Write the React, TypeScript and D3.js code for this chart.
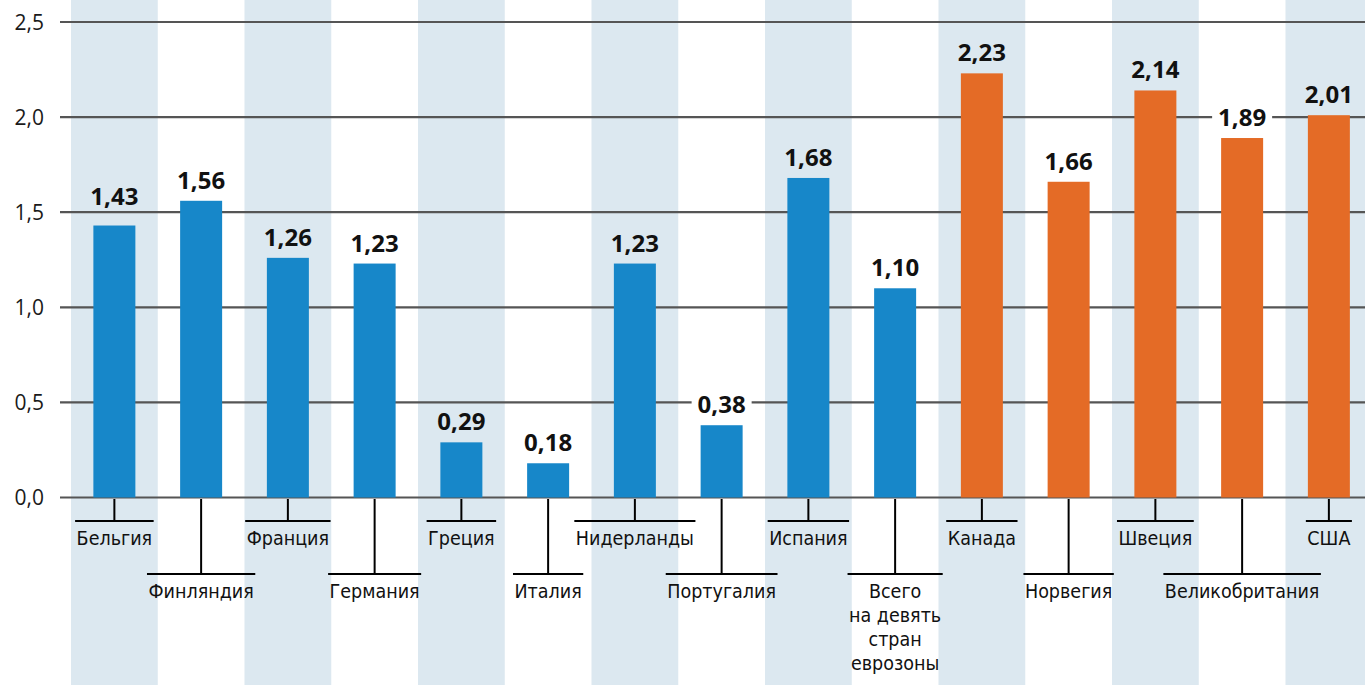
import React, { useEffect, useRef } from "react";
import * as d3 from "d3";

const categories: string[][] = [
  ["Бельгия"],
  ["Финляндия"],
  ["Франция"],
  ["Германия"],
  ["Греция"],
  ["Италия"],
  ["Нидерланды"],
  ["Португалия"],
  ["Испания"],
  ["Всего", "на девять", "стран", "еврозоны"],
  ["Канада"],
  ["Норвегия"],
  ["Швеция"],
  ["Великобритания"],
  ["США"],
];
const values: number[] = [1.43, 1.56, 1.26, 1.23, 0.29, 0.18, 1.23, 0.38, 1.68, 1.1, 2.23, 1.66, 2.14, 1.89, 2.01];
const groups: string[] = ["eu", "eu", "eu", "eu", "eu", "eu", "eu", "eu", "eu", "eu", "other", "other", "other", "other", "other"];
const yTicks: number[] = [0, 0.5, 1, 1.5, 2, 2.5];

const W = 1365;
const H = 685;
const BLUE = "#1787c9";
const ORANGE = "#e46b26";
const BAND = "#dce8f0";
const GRID = "#555555";

export default function App() {
  const ref = useRef<SVGSVGElement>(null);

  useEffect(() => {
    const svg = d3.select(ref.current);
    svg.selectAll("*").remove();
    const fmt = (v: number, d: number) => v.toFixed(d).replace(".", ",");
    const keys = categories.map((c, i) => String(i));
    const x = d3.scaleBand<string>().domain(keys).range([71, 71 + 15 * 86.75]).padding(0);
    const y = d3.scaleLinear().domain([0, 2.5]).range([497.5, 22]);
    const barW = 42;

    // bands
    svg.append("g")
      .selectAll("rect")
      .data(keys.filter((k, i) => i % 2 === 0))
      .join("rect")
      .attr("x", (k) => x(k)!)
      .attr("y", 0)
      .attr("width", x.bandwidth())
      .attr("height", H)
      .attr("fill", BAND);

    // gridlines
    svg.append("g")
      .selectAll("line")
      .data(yTicks)
      .join("line")
      .attr("x1", 60)
      .attr("x2", W)
      .attr("y1", (d) => y(d))
      .attr("y2", (d) => y(d))
      .attr("stroke", GRID)
      .attr("stroke-width", 2.2);

    // y tick labels
    svg.append("g")
      .selectAll("text")
      .data(yTicks)
      .join("text")
      .attr("x", 44)
      .attr("y", (d) => y(d) + 7.5)
      .attr("text-anchor", "end")
      .attr("font-family", "'Open Sans', sans-serif")
      .attr("font-size", 21)
      .attr("fill", "#1a1a1a")
      .text((d) => fmt(d, 1));

    // bars
    svg.append("g")
      .selectAll("rect")
      .data(values)
      .join("rect")
      .attr("x", (d, i) => x(keys[i])! + x.bandwidth() / 2 - barW / 2)
      .attr("y", (d) => y(d))
      .attr("width", barW)
      .attr("height", (d) => y(0) - y(d))
      .attr("fill", (d, i) => (groups[i] === "eu" ? BLUE : ORANGE));

    // value labels
    const vg = svg.append("g");
    values.forEach((v, i) => {
      const cx = x(keys[i])! + x.bandwidth() / 2;
      const shaded = i % 2 === 0;
      let base = y(v) - 12;
      const hit = yTicks.map((t) => y(t)).find((gy) => gy > base - 18 && gy < base + 3);
      let mask = false;
      if (hit !== undefined) {
        if (shaded) base = hit - 7;
        else mask = true;
      }
      const g = vg.append("g");
      const bg = g.append("rect").attr("fill", shaded ? BAND : "#ffffff");
      const t = g.append("text")
        .attr("x", cx)
        .attr("y", base)
        .attr("text-anchor", "middle")
        .attr("font-family", "'Open Sans', sans-serif")
        .attr("font-weight", 700)
        .attr("font-size", 24)
        .attr("fill", "#111111")
        .text(fmt(v, 2));
      const bb = (t.node() as SVGTextElement).getBBox();
      if (mask) {
        bg.attr("x", bb.x - 6).attr("y", base - 19).attr("width", bb.width + 12).attr("height", 22);
      } else {
        bg.remove();
      }
    });

    // category labels
    const cg = svg.append("g");
    categories.forEach((lines, i) => {
      const cx = x(keys[i])! + x.bandwidth() / 2;
      const upper = i % 2 === 0;
      const lineY = upper ? 521 : 574;
      const base = lineY + 24;
      const t = cg.append("text")
        .attr("text-anchor", "middle")
        .attr("font-family", "'Liberation Sans Narrow', 'DejaVu Sans Condensed', sans-serif")
        .attr("font-size", 19.5)
        .attr("fill", "#111111");
      lines.forEach((l, j) => {
        t.append("tspan").attr("x", cx).attr("y", base + j * 24).text(l);
      });
      let maxW = 0;
      t.selectAll<SVGTSpanElement, unknown>("tspan").each(function () {
        maxW = Math.max(maxW, this.getComputedTextLength());
      });
      const lw = maxW + 3;
      cg.append("line")
        .attr("x1", cx).attr("x2", cx)
        .attr("y1", 499).attr("y2", lineY)
        .attr("stroke", "#000").attr("stroke-width", 2);
      cg.append("line")
        .attr("x1", cx - lw / 2).attr("x2", cx + lw / 2)
        .attr("y1", lineY).attr("y2", lineY)
        .attr("stroke", "#000").attr("stroke-width", 2);
    });
  }, []);

  return (
    <svg
      ref={ref}
      width={W}
      height={H}
      style={{ position: "absolute", left: 0, top: 0, background: "#ffffff" }}
    />
  );
}
